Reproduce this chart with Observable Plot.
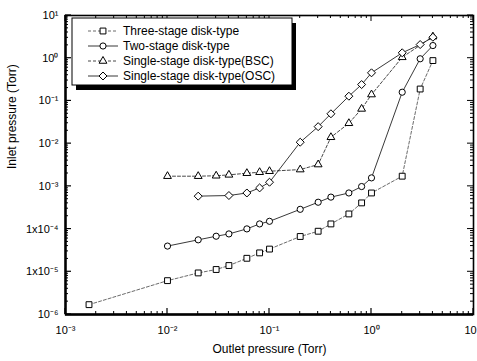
<!DOCTYPE html>
<html><head><meta charset="utf-8">
<script src="https://cdn.jsdelivr.net/npm/d3@7"></script>
<script src="https://cdn.jsdelivr.net/npm/@observablehq/plot@0.6"></script>
<style>body{margin:0;background:#fff}</style>
</head><body><div id="chart"></div>
<script>
// ---- data ----
const seriesNames = ["Three-stage disk-type", "Two-stage disk-type", "Single-stage disk-type(BSC)", "Single-stage disk-type(OSC)"];
const threeX = [0.0017, 0.01, 0.02, 0.03, 0.04, 0.06, 0.08, 0.1, 0.2, 0.3, 0.4, 0.6, 0.8, 1.0, 2.0, 3.0, 4.0];
const threeY = [1.7e-6, 6.2e-6, 9.4e-6, 1.13e-5, 1.4e-5, 2.07e-5, 2.77e-5, 3.4e-5, 6.7e-5, 8.9e-5, 1.32e-4, 2.26e-4, 4.1e-4, 7.0e-4, 1.73e-3, 0.19, 0.88];
const twoX = [0.01, 0.02, 0.03, 0.04, 0.06, 0.08, 0.1, 0.2, 0.3, 0.4, 0.6, 0.8, 1.0, 2.0, 3.0, 4.0];
const twoY = [4.0e-5, 5.6e-5, 6.8e-5, 7.7e-5, 1.01e-4, 1.32e-4, 1.52e-4, 2.9e-4, 4.25e-4, 5.6e-4, 7.0e-4, 9.9e-4, 1.58e-3, 0.16, 0.97, 1.98];
const bscX = [0.01, 0.02, 0.03, 0.04, 0.06, 0.08, 0.1, 0.2, 0.3, 0.4, 0.6, 0.8, 1.0, 2.0, 4.0];
const bscY = [1.73e-3, 1.73e-3, 1.77e-3, 1.86e-3, 2.03e-3, 2.14e-3, 2.26e-3, 2.47e-3, 3.24e-3, 0.0141, 0.030, 0.065, 0.141, 1.05, 3.2];
const oscX = [0.02, 0.04, 0.06, 0.08, 0.1, 0.2, 0.3, 0.4, 0.6, 0.8, 1.0, 2.0, 3.0, 4.0];
const oscY = [5.9e-4, 6.1e-4, 7.0e-4, 9.2e-4, 1.25e-3, 0.0108, 0.025, 0.050, 0.129, 0.242, 0.455, 1.34, 2.09, 3.1];

const majorX = [1e-3, 1e-2, 1e-1, 1, 10];
const xTickLabels = ["10\u207B\u00B3", "10\u207B\u00B2", "10\u207B\u00B9", "10\u2070", "10"];
const majorY = [10, 1, 1e-1, 1e-2, 1e-3, 1e-4, 1e-5, 1e-6];
const yTickLabels = ["10\u00B9", "10\u2070", "10\u207B\u00B9", "10\u207B\u00B2", "10\u207B\u00B3", "1x10\u207B\u2074", "1x10\u207B\u2075", "10\u207B\u2076"];
const xTitle = "Outlet pressure (Torr)";
const yTitle = "Inlet pressure (Torr)";

// ---- styles ----
const styles = [
  {symbol: "square", d3sym: d3.symbolSquare, r: 3.3, dash: "3,2", stroke: "#444", sw: 0.8},
  {symbol: "circle", d3sym: d3.symbolCircle, r: 3.1, dash: null, stroke: "#222", sw: 0.9},
  {symbol: "triangle", d3sym: d3.symbolTriangle, r: 2.9, dash: "3,2", stroke: "#333", sw: 0.9},
  {symbol: "diamond2", d3sym: d3.symbolDiamond2, r: 3.6, dash: null, stroke: "#222", sw: 0.9}
];
const xsList = [threeX, twoX, bscX, oscX];
const ysList = [threeY, twoY, bscY, oscY];
const rows = seriesNames.map((name, i) => xsList[i].map((x, j) => ({series: name, x, y: ysList[i][j]})));

const font = "'Liberation Sans', Arial, Helvetica, sans-serif";

function minorOf(majors) {
  const out = [];
  for (const m of majors) for (let k = 2; k <= 9; k++) out.push(m * k);
  return out;
}

// inward ticks on all four sides, using Plot's scales
function tickMarks(index, scales, values, dims) {
  const {width, height, marginLeft: ml, marginRight: mr, marginTop: mt, marginBottom: mb} = dims;
  const x0 = ml, x1 = width - mr, y0 = mt, y1 = height - mb;
  const g = d3.create("svg:g").attr("stroke", "black").attr("stroke-width", 1).attr("fill", "none");
  const xs = (v) => scales.x(v), ys = (v) => scales.y(v);
  const minX = minorOf(majorX).filter(v => v < 10);
  const minY = minorOf(majorY).filter(v => v < 10);
  const add = (a, b, c, d, w) => g.append("line").attr("x1", a).attr("y1", b).attr("x2", c).attr("y2", d).attr("stroke-width", w || 1);
  for (const v of majorX) { const p = xs(v); add(p, y1, p, y1 - 6, 1.2); add(p, y0, p, y0 + 6, 1); }
  for (const v of minX) { const p = xs(v); add(p, y1, p, y1 - 3); add(p, y0, p, y0 + 3); }
  for (const v of majorY) { const p = ys(v); add(x0, p, x0 + 6, p, 1.2); add(x1, p, x1 - 6, p, 1); }
  for (const v of minY) { const p = ys(v); add(x0, p, x0 + 3, p); add(x1, p, x1 - 3, p); }
  return g.node();
}

function legendMark(index, scales, values, dims) {
  const bx = dims.marginLeft + 7, by = dims.marginTop + 3, bw = 220, bh = 67;
  const g = d3.create("svg:g");
  g.append("rect").attr("x", bx + 4).attr("y", by + 5).attr("width", bw).attr("height", bh).attr("fill", "black");
  g.append("rect").attr("x", bx).attr("y", by).attr("width", bw).attr("height", bh).attr("fill", "white").attr("stroke", "black").attr("stroke-width", 1);
  seriesNames.forEach((name, i) => {
    const s = styles[i];
    const cy = by + 13 + i * 15;
    g.append("line").attr("x1", bx + 16).attr("x2", bx + 46).attr("y1", cy).attr("y2", cy)
      .attr("stroke", s.stroke).attr("stroke-width", s.sw).attr("stroke-dasharray", s.dash);
    g.append("path").attr("transform", `translate(${bx + 31},${cy})`)
      .attr("d", d3.symbol(s.d3sym, s.r * s.r * Math.PI)())
      .attr("fill", "white").attr("stroke", "black").attr("stroke-width", 1);
    g.append("text").attr("x", bx + 51).attr("y", cy).attr("dy", "0.35em")
      .attr("text-anchor", "start")
      .attr("font-family", font).attr("font-size", 12).attr("fill", "black").attr("stroke", "none").text(name);
  });
  return g.node();
}

const fmtX = d => xTickLabels[majorX.indexOf(d)];
const marks = [
  Plot.frame({stroke: "black", strokeWidth: 1.6}),
  Plot.ruleX([1e-3], {stroke: "black", strokeWidth: 2.4}),
  Plot.ruleY([1e-6], {stroke: "black", strokeWidth: 2.4}),
  tickMarks,
  Plot.axisX(majorX.slice(0, -1), {anchor: "bottom", tickSize: 0, tickPadding: 12, fontSize: 11, fontFamily: font,
    tickFormat: fmtX, label: null, fill: "black"}),
  Plot.axisX(majorX.slice(-1), {anchor: "bottom", tickSize: 0, tickPadding: 12, fontSize: 11, fontFamily: font,
    tickFormat: fmtX, label: null, fill: "black", dx: -3}),
  Plot.axisY(majorY, {anchor: "left", tickSize: 0, tickPadding: 7, fontSize: 11, fontFamily: font,
    tickFormat: d => yTickLabels[majorY.indexOf(d)], label: null, fill: "black"}),
  Plot.text([xTitle], {frameAnchor: "bottom", dy: 38, fontSize: 12, fontFamily: font, fill: "black"}),
  Plot.text([yTitle], {frameAnchor: "left", dx: -53, dy: 4, rotate: -90, fontSize: 12, fontFamily: font, fill: "black"})
];
rows.forEach((data, i) => {
  const s = styles[i];
  marks.push(Plot.line(data, {x: "x", y: "y", stroke: s.stroke, strokeWidth: s.sw, strokeDasharray: s.dash}));
});
rows.forEach((data, i) => {
  const s = styles[i];
  marks.push(Plot.dot(data, {x: "x", y: "y", symbol: s.symbol, r: s.r, fill: "white", stroke: "black", strokeWidth: 1}));
});
marks.push(legendMark);

const chart = Plot.plot({
  width: 477, height: 361,
  marginLeft: 65, marginRight: 4, marginTop: 15, marginBottom: 47,
  x: {type: "log", domain: [1e-3, 10], axis: null},
  y: {type: "log", domain: [1e-6, 10], axis: null},
  style: {fontFamily: font, background: "white", color: "black"},
  marks
});
document.getElementById("chart").appendChild(chart);
</script>
</body></html>
